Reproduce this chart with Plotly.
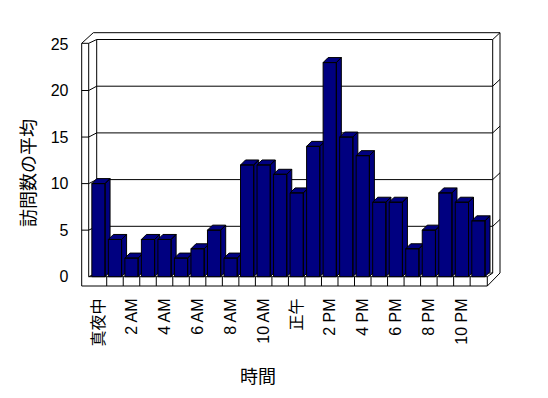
import plotly.graph_objects as go

# ---- data ----
hour_labels = ["真夜中", "1 AM", "2 AM", "3 AM", "4 AM", "5 AM", "6 AM", "7 AM", "8 AM", "9 AM",
               "10 AM", "11 AM", "正午", "1 PM", "2 PM", "3 PM", "4 PM", "5 PM", "6 PM", "7 PM",
               "8 PM", "9 PM", "10 PM", "11 PM"]
avg_visits = [10, 4, 2, 4, 4, 2, 3, 5, 2, 12, 12, 11, 9, 14, 23, 15, 13, 8, 8, 3, 5, 9, 8, 6]
value_ticks = [0, 5, 10, 15, 20, 25]
x_title = "時間"
y_title = "訪問数の平均"

# ---- layout geometry (pixel space of the 548x398 canvas) ----
FW, FH = 548, 398
X0, CW = 98.45, 16.52     # pixel centre of first category, pixels per category
Y0, VH = 276.7, 9.31      # pixel of value 0 on the front plane, pixels per unit


def px2x(px):
    return (px - X0) / CW


def py2y(py):
    return (Y0 - py) / VH


BAR_HALF = 0.4
DX, DY = 5 / CW, 5 / VH   # bar depth offset in data units

NAVY = "#000080"
fig = go.Figure()

# bars drawn left to right as three faces each (side, top, front)
for i, v in enumerate(avg_visits):
    l, r = i - BAR_HALF, i + BAR_HALF
    polys = [
        [(r, 0), (r + DX, DY), (r + DX, v + DY), (r, v)],
        [(l, v), (r, v), (r + DX, v + DY), (l + DX, v + DY)],
        [(l, 0), (r, 0), (r, v), (l, v)],
    ]
    xs, ys = [], []
    for p in polys:
        p = p + [p[0]]
        xs += [q[0] for q in p] + [None]
        ys += [q[1] for q in p] + [None]
    fig.add_trace(go.Scatter(x=xs, y=ys, mode="lines", fill="toself",
                             fillcolor=NAVY, line=dict(color="black", width=1),
                             hoverinfo="skip", showlegend=False))

# ---- frame (walls / floor) ----
XL_OUT, XL_IN, XB_L, XB_R, XR_OUT, XF_R = 81.7, 88.7, 96.7, 492.7, 500.0, 487.3
Y_TOP_OUT, Y_TOP_B, Y_TOP_F = 32.7, 39.5, 43.3
Y_FLOOR_F, Y_FLOOR_BOT, Y_FLOOR_B = 276.7, 286.0, 273.0
BACK_SCALE = (Y_FLOOR_B - Y_TOP_B) / value_ticks[-1]


def yb(v):
    return Y_FLOOR_B - BACK_SCALE * v


segments = [
    [(XL_OUT, Y_TOP_F), (XL_OUT, Y_FLOOR_BOT), (XF_R, Y_FLOOR_BOT), (XF_R, Y_FLOOR_F), (XL_IN, Y_FLOOR_F)],
    [(XL_IN, Y_TOP_F), (XL_IN, Y_FLOOR_F)],
    [(XL_OUT, Y_TOP_F), (XL_IN, Y_TOP_F), (XB_L, Y_TOP_B), (XB_R, Y_TOP_B), (XR_OUT, Y_TOP_OUT)],
    [(XL_OUT, Y_TOP_F), (93.3, Y_TOP_OUT), (XR_OUT, Y_TOP_OUT), (XR_OUT, Y_FLOOR_B), (XF_R, Y_FLOOR_BOT)],
    [(XB_L, Y_TOP_B), (XB_L, Y_FLOOR_B), (XB_R, Y_FLOOR_B), (XB_R, Y_TOP_B)],
    [(XL_IN, Y_FLOOR_F), (XB_L, Y_FLOOR_B)],
    [(XF_R, Y_FLOOR_F), (XB_R, Y_FLOOR_B)],
]
for v in value_ticks[1:-1]:
    yf = Y0 - VH * v
    segments.append([(XL_OUT, yf), (XL_IN, yf), (XB_L, yb(v)), (XB_R, yb(v)),
                     (XR_OUT, yb(v) - 6.8)])
for i in range(len(hour_labels) - 1):
    xd = X0 + CW * (i + 0.5)
    segments.append([(xd, Y_FLOOR_F), (xd, Y_FLOOR_BOT)])

shapes = []
for seg in segments:
    path = "M " + " L ".join(f"{px2x(a):.5f},{py2y(b):.5f}" for a, b in seg)
    shapes.append(dict(type="path", path=path, xref="x", yref="y", layer="below",
                       line=dict(color="black", width=1)))

FONT = "Liberation Sans, Arial, Noto Sans CJK JP, sans-serif"

fig.update_layout(
    width=FW, height=FH,
    margin=dict(l=0, r=0, t=0, b=0),
    paper_bgcolor="white", plot_bgcolor="white",
    font=dict(family=FONT, size=16, color="black"),
    shapes=shapes,
    showlegend=False,
    xaxis=dict(range=[px2x(0), px2x(FW)], domain=[0, 1], anchor="free",
               position=1 - Y_FLOOR_BOT / FH,
               tickmode="array", tickvals=list(range(0, len(hour_labels), 2)),
               ticktext=hour_labels[::2], tickangle=-90,
               tickfont=dict(size=16, color="black"),
               ticks="outside", ticklen=5, tickcolor="rgba(0,0,0,0)",
               showgrid=False, zeroline=False, showline=False, fixedrange=True),
    yaxis=dict(range=[py2y(FH), py2y(0)], domain=[0, 1], anchor="free",
               position=XL_OUT / FW,
               tickmode="array", tickvals=value_ticks,
               tickfont=dict(size=16, color="black"),
               ticks="outside", ticklen=10, tickcolor="rgba(0,0,0,0)",
               showgrid=False, zeroline=False, showline=False, fixedrange=True),
    annotations=[
        dict(text=y_title, x=29 / FW, y=1 - 173 / FH, xref="paper", yref="paper",
             xanchor="center", yanchor="middle",
             textangle=-90, showarrow=False, font=dict(size=18)),
        dict(text=x_title, x=258 / FW, y=1 - 377 / FH, xref="paper", yref="paper",
             xanchor="center", yanchor="middle",
             showarrow=False, font=dict(size=18)),
    ],
)

fig.write_html("out.html")
